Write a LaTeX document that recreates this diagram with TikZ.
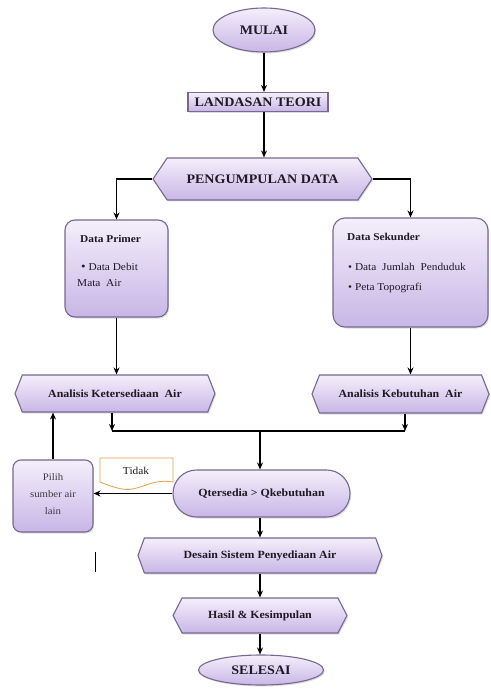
\documentclass[tikz,border=0pt]{standalone}
\usepackage{fontspec}
\setmainfont{Liberation Serif}[FakeStretch=1.08]
\usetikzlibrary{shapes.symbols,shapes.misc,shapes.geometric,arrows.meta,shadows,calc}

\definecolor{bordc}{RGB}{120,104,145}
\definecolor{topc}{RGB}{244,239,251}
\definecolor{botc}{RGB}{200,182,230}
\definecolor{txtc}{RGB}{30,25,35}
\definecolor{tidakc}{RGB}{226,160,80}

\tikzset{
 base/.style={draw=bordc, line width=1.1pt, top color=topc, bottom color=botc,
   drop shadow={opacity=0.25, shadow xshift=1.2pt, shadow yshift=-1.5pt},
   text=txtc, inner sep=0pt, font=\fontsize{11}{13}\selectfont\bfseries},
 bigfont/.style={font=\fontsize{13}{15}\selectfont\bfseries},
 term/.style={base, ellipse, bigfont},
 procbox/.style={base, rectangle},
 hexa/.style={base, signal, signal to=west and east},
 rbox/.style={base, rectangle, rounded corners=10pt},
 conn/.style={line width=1.5pt, -{Stealth[length=7pt,width=6pt]}},
 plainline/.style={line width=1.5pt},
 boxtitle/.style={anchor=west, text=txtc, inner sep=0pt, font=\fontsize{10.5}{12}\selectfont\bfseries},
 boxitem/.style={anchor=west, text=txtc, inner sep=0pt, font=\fontsize{10.5}{12}\selectfont},
}

\begin{document}
\begin{tikzpicture}[x=1pt, y=-1pt]
\fill[white] (0,0) rectangle (490,692);
\useasboundingbox (0,0) rectangle (490,692);

\node[term, minimum width=102pt, minimum height=44pt] (mulai) at (264,30) {MULAI};
\node[procbox, bigfont, minimum width=140pt, minimum height=19pt] (landasan) at (258,102) {LANDASAN TEORI};
\node[hexa, bigfont, signal pointer angle=112, minimum width=219pt, minimum height=42pt] (kumpul) at (262.5,179) {PENGUMPULAN DATA};

\node[rbox, minimum width=103pt, minimum height=97pt] (primer) at (116.5,268.5) {};
\node[boxtitle] (primert) at (80,239) {Data Primer};
\node[boxitem] (primer1) at (81,267) {{\large\textbullet}\ Data Debit};
\node[boxitem] (primer2) at (77,283) {Mata\ \ Air};

\node[rbox, rounded corners=12pt, minimum width=155pt, minimum height=109pt] (sekunder) at (410.5,272.5) {};
\node[boxtitle] (sekundert) at (347,237) {Data Sekunder};
\node[boxitem] (sekunder1) at (348,267) {\textbullet\ Data\ \ Jumlah\ \ Penduduk};
\node[boxitem] (sekunder2) at (348,288) {\textbullet\ Peta Topografi};

\node[hexa, signal pointer angle=137, minimum width=200pt, minimum height=37pt] (ketersediaan) at (115,393.5) {Analisis Ketersediaan\ \ Air};
\node[hexa, signal pointer angle=137, minimum width=177pt, minimum height=38pt] (kebutuhan) at (400.5,394) {Analisis Kebutuhan\ \ Air};

\node[rbox, rounded corners=8pt, minimum width=80pt, minimum height=72pt] (pilih) at (53,496) {};
\node[align=center, text=txtc!85, inner sep=0pt, font=\fontsize{10}{17}\selectfont] (piliht) at (53,494) {Pilih\\sumber air\\lain};

\fill[white, draw=tidakc, line width=0.8pt] (100,458) -- (173,458) -- (173,482)
  .. controls (150,478) and (140,492) .. (122,489)
  .. controls (112,487) and (105,484) .. (100,482) -- cycle;
\node[text=txtc, inner sep=0pt, font=\fontsize{10.5}{12}\selectfont] (tidak) at (136,471) {Tidak};

\node[base, rounded rectangle, minimum width=177pt, minimum height=47pt] (q) at (261.5,493.5) {Qtersedia > Qkebutuhan};
\node[hexa, signal pointer angle=140, minimum width=244pt, minimum height=35pt] (desain) at (260,555.5) {Desain Sistem Penyediaan Air};
\node[hexa, signal pointer angle=125, minimum width=174pt, minimum height=35pt] (hasil) at (260,615.5) {Hasil \& Kesimpulan};
\node[term, minimum width=125pt, minimum height=30pt] (selesai) at (261,670) {SELESAI};

\coordinate (ax) at (264,0);
\coordinate (j1) at (112,431);
\coordinate (j2) at (405,431);
\coordinate (jm) at (260,431);

\draw[conn] (mulai.south -| ax) -- (landasan.north -| ax);
\draw[conn] (landasan.south -| ax) -- (kumpul.north -| ax);
\draw[conn] (kumpul.west) -| (primer.north);
\draw[conn] (kumpul.east) -| (sekunder.north);
\draw[conn] (primer.south) -- (primer.south |- ketersediaan.north);
\draw[conn] (sekunder.south) -- (sekunder.south |- kebutuhan.north);
\draw[conn] (ketersediaan.south -| j1) -- (j1);
\draw[conn] (kebutuhan.south -| j2) -- (j2);
\draw[plainline] (j1) -- (j2);
\draw[conn] (jm) -- (q.north -| jm);
\draw[conn] (q.west) -- (pilih.east |- q.west);
\draw[conn] (pilih.north) -- (pilih.north |- ketersediaan.south);
\draw[conn] (q.south -| jm) -- (desain.north -| jm);
\draw[conn] (desain.south -| jm) -- (hasil.north -| jm);
\draw[conn] (hasil.south -| jm) -- (selesai.north -| jm);

\draw[line width=1pt] (95,552) -- (95,572);
\end{tikzpicture}
\end{document}
